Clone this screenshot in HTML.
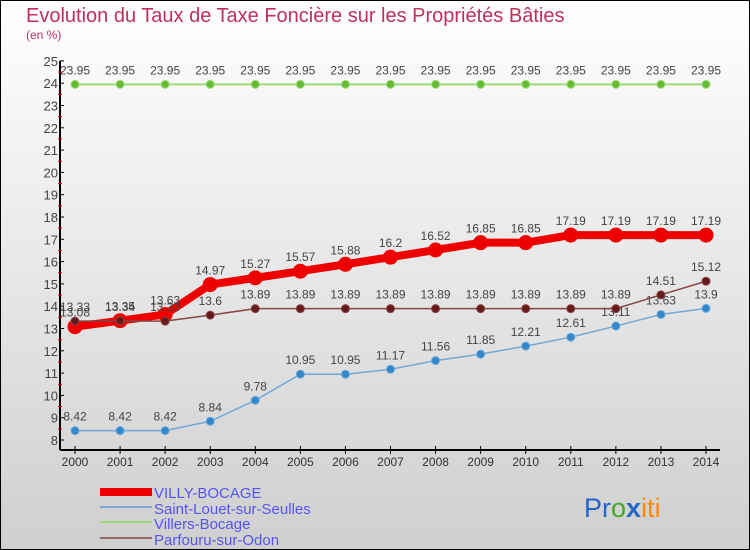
<!DOCTYPE html>
<html><head><meta charset="utf-8"><style>
body{margin:0}
#c{width:750px;height:550px;position:relative;box-sizing:border-box;border:1px solid #000;background:linear-gradient(#fff,#cfcfcf);font-family:"Liberation Sans",sans-serif;overflow:hidden}
</style></head><body>
<div id="c">
<svg id="s" width="750" height="550" xmlns="http://www.w3.org/2000/svg" style="position:absolute;left:-1px;top:-1px">
<text x="26" y="22" font-size="20" fill="#c0305a">Evolution du Taux de Taxe Foncière sur les Propriétés Bâties</text>
<text x="26" y="39" font-size="12" fill="#c0305a">(en %)</text>
<g id="axes"></g><g id="series"></g>
<g font-size="15" fill="#5555ee">
<rect x="100" y="488" width="52" height="8" fill="#ee0000"/>
<text x="154" y="498">VILLY-BOCAGE</text>
<rect x="100" y="506" width="52" height="2" fill="#7aa8d0"/>
<text x="154" y="514">Saint-Louet-sur-Seulles</text>
<rect x="100" y="521" width="52" height="2" fill="#99dd77"/>
<text x="154" y="529">Villers-Bocage</text>
<rect x="100" y="537" width="52" height="2" fill="#996666"/>
<text x="154" y="545">Parfouru-sur-Odon</text>
</g>
<text x="584" y="517" font-size="27"><tspan fill="#2266cc">Pr</tspan><tspan fill="#44aa22">o</tspan><tspan fill="#2266cc" font-weight="bold">x</tspan><tspan fill="#ff8800">iti</tspan></text>
</svg></div>
<script>
const years=[2000,2001,2002,2003,2004,2005,2006,2007,2008,2009,2010,2011,2012,2013,2014];
const villy=[13.08,13.35,13.63,14.97,15.27,15.57,15.88,16.2,16.52,16.85,16.85,17.19,17.19,17.19,17.19];
const louet=[8.42,8.42,8.42,8.84,9.78,10.95,10.95,11.17,11.56,11.85,12.21,12.61,13.11,13.63,13.9];
const villers=[23.95,23.95,23.95,23.95,23.95,23.95,23.95,23.95,23.95,23.95,23.95,23.95,23.95,23.95,23.95];
const parfouru=[13.33,13.34,13.33,13.6,13.89,13.89,13.89,13.89,13.89,13.89,13.89,13.89,13.89,14.51,15.12];
const yTicks=[8,9,10,11,12,13,14,15,16,17,18,19,20,21,22,23,24,25];
const NS="http://www.w3.org/2000/svg";
const X=i=>75+i*(631/14), Y=v=>440-(v-8)*22.3;
function mk(p,t,a){const e=document.createElementNS(NS,t);for(const k in a)e.setAttribute(k,a[k]);p.appendChild(e);return e;}
const ax=document.getElementById('axes'),sg=document.getElementById('series');
let yl=mk(ax,'line',{x1:60,y1:Y(25),x2:60,y2:450,stroke:'#000','stroke-width':2});

let xl=mk(ax,'line',{x1:60,y1:450,x2:720,y2:450,stroke:'#000','stroke-width':2});

yTicks.forEach(v=>{mk(ax,'line',{x1:60,y1:Y(v),x2:64,y2:Y(v),stroke:'#000'});
 if(v<25)mk(ax,'line',{x1:58,y1:Y(v+.5),x2:62,y2:Y(v+.5),stroke:'#e00'});
 const t=mk(ax,'text',{x:58,y:Y(v)+5,'font-size':13,fill:'#444','text-anchor':'end'});t.textContent=v;
 });
years.forEach((y,i)=>{mk(ax,'line',{x1:X(i),y1:446,x2:X(i),y2:454,stroke:'#000'});
 const t=mk(ax,'text',{x:X(i),y:466,'font-size':12,fill:'#333','text-anchor':'middle'});t.textContent=y;
 });
function series(d,name,col,w,r,dot){const g=mk(sg,'g',{});
 
 mk(g,'polyline',{points:d.map((v,i)=>X(i)+','+Y(v)).join(' '),fill:'none',stroke:col,'stroke-width':w,'stroke-linejoin':'round'});
 d.forEach((v,i)=>{const c=mk(g,'circle',{cx:X(i),cy:Y(v),r:r,fill:dot,stroke:col,'stroke-width':1});
  
  const t=mk(g,'text',{x:X(i),y:Y(v)-10,'font-size':12,fill:'#444','text-anchor':'middle'});t.textContent=v;
  });}
series(villers,'villers','#99dd77',2,4,'#66bb33');
series(louet,'saint-louet','#6fa8d8',1.5,4,'#3388cc');
series(villy,'villy','#ee0000',8,7,'#ee0000');
series(parfouru,'parfouru','#884444',1.5,4,'#661a1a');
</script></body></html>
